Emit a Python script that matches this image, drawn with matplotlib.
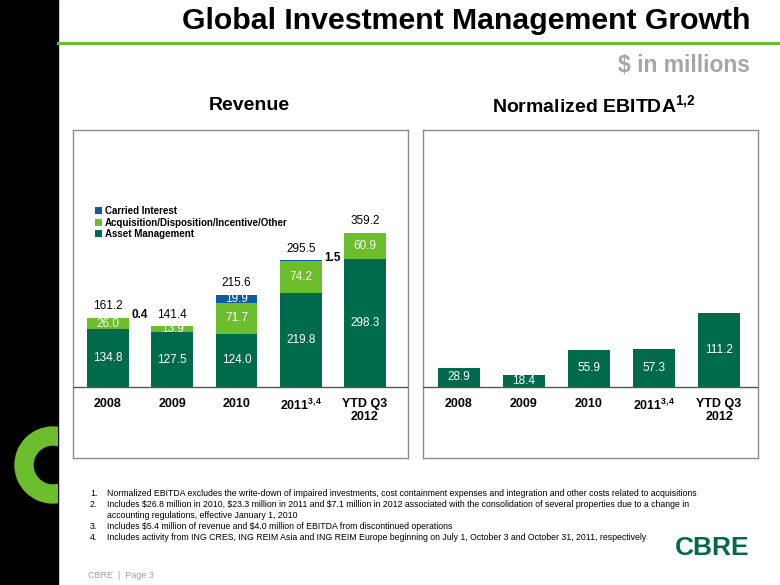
import matplotlib
matplotlib.use("Agg")
import matplotlib.pyplot as plt
import numpy as np
from matplotlib.patches import Rectangle, Wedge

plt.rcParams['font.family'] = ['Liberation Sans', 'DejaVu Sans']
plt.rcParams['mathtext.default'] = 'regular'

# data
years = ['2008', '2009', '2010', '2011', 'YTD Q3\n2012']
asset_mgmt = [134.8, 127.5, 124.0, 219.8, 298.3]
acq_other = [26.0, 13.9, 71.7, 74.2, 60.9]
carried = [0.4, 0.0, 19.9, 1.5, 0.0]
ebitda = [28.9, 18.4, 55.9, 57.3, 111.2]

footnotes = [
    "Normalized EBITDA excludes the write-down of impaired investments, cost containment expenses and integration and other costs related to acquisitions",
    "Includes $26.8 million in 2010, $23.3 million in 2011 and $7.1 million in 2012 associated with the consolidation of several properties due to a change in\naccounting regulations, effective January 1, 2010",
    "Includes $5.4 million of revenue and $4.0 million of EBITDA from discontinued operations",
    "Includes activity from ING CRES, ING REIM Asia and ING REIM Europe beginning on July 1, October 3 and October 31, 2011, respectively",
]

DARK = '#006A4D'
LIGHT = '#6CBE2D'
BLUE = '#0B5C9E'
W, H = 780, 585

fig = plt.figure(figsize=(7.8, 5.85), dpi=100)

# background layer in pixel coords
bg = fig.add_axes([0, 0, 1, 1])
bg.set_xlim(0, W)
bg.set_ylim(H, 0)
bg.axis('off')
band = Rectangle((0, 0), 58, H, color='black', zorder=1)
bg.add_patch(band)
ring = Wedge((53, 465), 38, 0, 360, width=18, color='#6CBE2D', zorder=2)
bg.add_patch(ring)
ring.set_clip_path(band)
bg.plot([58, W], [43, 43], color='#6CBE2D', lw=2.2, zorder=2)

bg.text(750, 21, 'Global Investment Management Growth', fontsize=21.8, fontweight='bold',
        ha='right', va='center')
bg.text(750, 65, r'\$ in millions', fontsize=16.5, fontweight='bold', color='#A6A6A6',
        ha='right', va='center')
bg.text(249, 105, 'Revenue', fontsize=14, fontweight='bold', ha='center', va='center')
bg.text(594, 105, r'Normalized EBITDA$^{1{,}2}$', fontsize=14, fontweight='bold',
        ha='center', va='center')

ypos = 493
for i, note in enumerate(footnotes):
    bg.text(90, ypos, f'{i + 1}.', fontsize=6.3, va='center')
    for ln in note.split('\n'):
        bg.text(107, ypos, ln.replace('$', r'\$'), fontsize=6.3, va='center')
        ypos += 11.2

bg.text(750, 548, 'CBRE', fontsize=19, fontweight='bold', color=DARK,
        ha='right', va='center')
bg.text(88, 576, 'CBRE  |  Page 3', fontsize=6.5, color='#A0A0A0', va='center')


def panel(x0, x1, y0, y1):
    ax = fig.add_axes([x0 / W, 1 - y1 / H, (x1 - x0) / W, (y1 - y0) / H])
    for s in ax.spines.values():
        s.set_color('#8C8C8C')
        s.set_linewidth(1)
    ax.set_xticks([])
    ax.set_yticks([])
    return ax


def year_labels(ax):
    for i, lab in enumerate(years):
        txt = lab if lab != '2011' else r'2011$^{3{,}4}$'
        ax.annotate(txt, (i, 0), xytext=(0, -8), textcoords='offset points',
                    ha='center', va='top', fontsize=9, fontweight='bold',
                    linespacing=1.15)


x = np.arange(len(years))

# revenue panel
ax1 = panel(73, 408, 130, 458)
s1 = 0.4287
ax1.set_xlim(-(108 - 73) / 64.25, 4 + (408 - 365) / 64.25)
ax1.set_ylim(-71 / s1, (387 - 130) / s1)
bw = 0.65
am = np.array(asset_mgmt)
aq = np.array(acq_other)
ci = np.array(carried)
ax1.bar(x, am, bw, color=DARK, label='Asset Management', zorder=2)
ax1.bar(x, aq, bw, bottom=am, color=LIGHT, label='Acquisition/Disposition/Incentive/Other', zorder=2)
ax1.bar(x, ci, bw, bottom=am + aq, color=BLUE, label='Carried Interest', zorder=2)
ax1.axhline(0, color='#555555', lw=1, zorder=3)
tot = am + aq + ci
for i in x:
    ax1.text(i, am[i] / 2, f'{am[i]:.1f}', color='white', ha='center', va='center', fontsize=8.5)
    ax1.text(i, am[i] + aq[i] / 2, f'{aq[i]:.1f}', color='white', ha='center', va='center', fontsize=8.5)
    if ci[i] >= 5:
        ax1.text(i, am[i] + aq[i] + ci[i] / 2, f'{ci[i]:.1f}', color='white', ha='center',
                 va='center', fontsize=8.5)
    elif ci[i] > 0:
        ax1.text(i + bw / 2 + 0.04, tot[i] + 6, f'{ci[i]:.1f}', ha='left', va='center',
                 fontsize=8.5, fontweight='bold')
    ax1.annotate(f'{tot[i]:.1f}', (i, tot[i]), xytext=(0, 4), textcoords='offset points',
                 ha='center', va='bottom', fontsize=8.5)
year_labels(ax1)
h, l = ax1.get_legend_handles_labels()
leg = ax1.legend(h[::-1], l[::-1], loc='upper left', bbox_to_anchor=(0.065, 0.768),
                 frameon=False, fontsize=7, handlelength=0.7, handleheight=0.7,
                 handletextpad=0.35, labelspacing=0.15, borderaxespad=0, borderpad=0)
for t in leg.get_texts():
    t.set_fontweight('bold')

# EBITDA panel
ax2 = panel(423, 758, 130, 458)
s2 = 0.662
ax2.set_xlim(-(459 - 423) / 65, 4 + (758 - 719) / 65)
ax2.set_ylim(-71 / s2, (387 - 130) / s2)
eb = np.array(ebitda)
ax2.bar(x, eb, 0.66, color=DARK, zorder=2)
ax2.axhline(0, color='#555555', lw=1, zorder=3)
for i in x:
    ax2.text(i, eb[i] / 2, f'{eb[i]:.1f}', color='white', ha='center', va='center', fontsize=8.5)
year_labels(ax2)

fig.savefig('out.png', dpi=100)
